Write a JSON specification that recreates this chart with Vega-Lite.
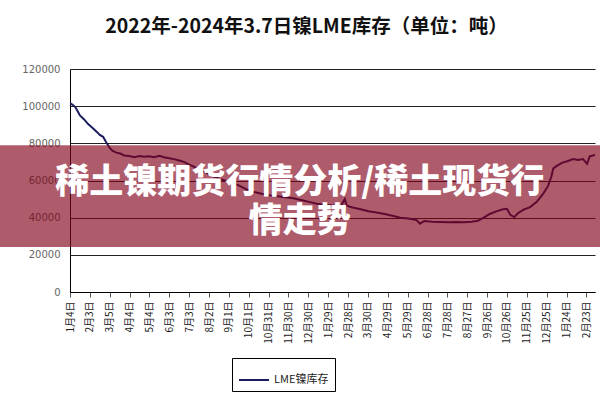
{
  "$schema": "https://vega.github.io/schema/vega-lite/v6.json",
  "autosize": "none",
  "width": 525,
  "height": 223,
  "padding": {"left": 70, "top": 69, "right": 5, "bottom": 108},
  "background": "white",
  "title": {
    "text": "2022年-2024年3.7日镍LME库存（单位：吨）",
    "font": "Noto Sans CJK SC",
    "fontSize": 19.5,
    "fontWeight": "bold",
    "color": "#111",
    "anchor": "middle",
    "frame": "group",
    "dx": -26,
    "offset": 27
  },
  "config": {
    "view": {"stroke": null},
    "axis": {"domainColor": "#000", "gridColor": "#222", "gridWidth": 1, "title": null, "labelOverlap": false},
    "axisX": {
      "grid": false,
      "labelAngle": -90,
      "labelAlign": "right",
      "labelBaseline": "middle",
      "labelFont": "Noto Sans CJK SC",
      "labelFontSize": 10,
      "labelColor": "#222",
      "labelPadding": 4,
      "labelBound": false,
      "labelFlush": false,
      "tickColor": "#555",
      "tickSize": 5
    },
    "axisY": {
      "grid": true,
      "ticks": false,
      "labelPadding": 10,
      "labelFont": "DejaVu Sans",
      "labelFontSize": 10,
      "labelColor": "#666"
    }
  },
  "datasets": {
    "stock": [
      {"date": "2022-01-04", "v": 101500},
      {"date": "2022-01-07", "v": 101000},
      {"date": "2022-01-12", "v": 99500},
      {"date": "2022-01-16", "v": 97000},
      {"date": "2022-01-19", "v": 95000},
      {"date": "2022-01-25", "v": 93000},
      {"date": "2022-01-31", "v": 90500},
      {"date": "2022-02-08", "v": 88000},
      {"date": "2022-02-14", "v": 86000},
      {"date": "2022-02-18", "v": 84500},
      {"date": "2022-02-23", "v": 83500},
      {"date": "2022-02-27", "v": 81000},
      {"date": "2022-03-05", "v": 77500},
      {"date": "2022-03-09", "v": 76000},
      {"date": "2022-03-15", "v": 75000},
      {"date": "2022-03-21", "v": 74500},
      {"date": "2022-03-27", "v": 73500},
      {"date": "2022-04-04", "v": 73200},
      {"date": "2022-04-11", "v": 72500},
      {"date": "2022-04-19", "v": 73200},
      {"date": "2022-04-26", "v": 72800},
      {"date": "2022-05-04", "v": 73000},
      {"date": "2022-05-11", "v": 72500},
      {"date": "2022-05-19", "v": 73300},
      {"date": "2022-05-26", "v": 72500},
      {"date": "2022-06-03", "v": 72000},
      {"date": "2022-06-10", "v": 71500},
      {"date": "2022-06-18", "v": 70800},
      {"date": "2022-06-25", "v": 70000},
      {"date": "2022-07-03", "v": 68500},
      {"date": "2022-07-10", "v": 67500},
      {"date": "2022-07-18", "v": 66000},
      {"date": "2022-07-30", "v": 64000},
      {"date": "2022-08-10", "v": 62000},
      {"date": "2022-08-21", "v": 60500},
      {"date": "2022-09-03", "v": 59000},
      {"date": "2022-09-15", "v": 57500},
      {"date": "2022-09-26", "v": 55500},
      {"date": "2022-10-07", "v": 54000},
      {"date": "2022-10-19", "v": 53000},
      {"date": "2022-10-31", "v": 52000},
      {"date": "2022-11-13", "v": 51500},
      {"date": "2022-11-25", "v": 51000},
      {"date": "2022-12-07", "v": 50500},
      {"date": "2022-12-19", "v": 49500},
      {"date": "2022-12-31", "v": 48500},
      {"date": "2023-01-12", "v": 47500},
      {"date": "2023-01-24", "v": 47000},
      {"date": "2023-02-05", "v": 46500},
      {"date": "2023-02-17", "v": 46000},
      {"date": "2023-02-23", "v": 50000},
      {"date": "2023-02-26", "v": 46500},
      {"date": "2023-03-07", "v": 45500},
      {"date": "2023-03-19", "v": 44500},
      {"date": "2023-03-31", "v": 43500},
      {"date": "2023-04-12", "v": 42800},
      {"date": "2023-04-24", "v": 42000},
      {"date": "2023-05-06", "v": 41000},
      {"date": "2023-05-18", "v": 40000},
      {"date": "2023-05-30", "v": 39500},
      {"date": "2023-06-11", "v": 38800},
      {"date": "2023-06-17", "v": 36800},
      {"date": "2023-06-23", "v": 38200},
      {"date": "2023-07-05", "v": 37800},
      {"date": "2023-07-17", "v": 37700},
      {"date": "2023-07-29", "v": 37600},
      {"date": "2023-08-10", "v": 37700},
      {"date": "2023-08-22", "v": 37600},
      {"date": "2023-09-03", "v": 37800},
      {"date": "2023-09-12", "v": 38300},
      {"date": "2023-09-21", "v": 40000},
      {"date": "2023-09-30", "v": 42000},
      {"date": "2023-10-11", "v": 43500},
      {"date": "2023-10-20", "v": 44500},
      {"date": "2023-10-26", "v": 44800},
      {"date": "2023-10-31", "v": 41500},
      {"date": "2023-11-06", "v": 40300},
      {"date": "2023-11-12", "v": 42500},
      {"date": "2023-11-21", "v": 44500},
      {"date": "2023-11-30", "v": 45700},
      {"date": "2023-12-10", "v": 48500},
      {"date": "2023-12-19", "v": 52500},
      {"date": "2023-12-27", "v": 57000},
      {"date": "2024-01-01", "v": 62000},
      {"date": "2024-01-04", "v": 66500},
      {"date": "2024-01-10", "v": 68000},
      {"date": "2024-01-17", "v": 69500},
      {"date": "2024-01-26", "v": 70500},
      {"date": "2024-02-03", "v": 71500},
      {"date": "2024-02-10", "v": 71000},
      {"date": "2024-02-18", "v": 71500},
      {"date": "2024-02-24", "v": 69000},
      {"date": "2024-02-28", "v": 73000},
      {"date": "2024-03-07", "v": 73700}
    ],
    "banner": [{"label": ["稀土镍期货行情分析/稀土现货行", "情走势"]}]
  },
  "layer": [
    {
      "data": {"name": "stock"},
      "mark": {"type": "line", "strokeWidth": 2, "interpolate": "linear"},
      "encoding": {
        "x": {
          "field": "date",
          "type": "temporal",
          "scale": {
            "type": "utc",
            "domain": [1641254400000, 1709769600000],
            "nice": false
          },
          "axis": {
            "values": [1641254400000, 1643846400000, 1646438400000, 1649030400000, 1651622400000, 1654214400000, 1656806400000, 1659398400000, 1661990400000, 1664582400000, 1667174400000, 1669766400000, 1672358400000, 1674950400000, 1677542400000, 1680134400000, 1682726400000, 1685318400000, 1687910400000, 1690502400000, 1693094400000, 1695686400000, 1698278400000, 1700870400000, 1703462400000, 1706054400000, 1708646400000],
            "labelExpr": "(utcmonth(datum.value) + 1) + '月' + utcdate(datum.value) + '日'"
          }
        },
        "y": {
          "field": "v",
          "type": "quantitative",
          "scale": {"domain": [0, 120000], "nice": false},
          "axis": {"values": [0, 20000, 40000, 60000, 80000, 100000, 120000], "format": "d"}
        },
        "color": {
          "datum": "LME镍库存",
          "type": "nominal",
          "scale": {"range": ["#1c1c5e"]},
          "legend": {
            "title": null,
            "orient": "none",
            "legendX": 162,
            "legendY": 289,
            "strokeColor": "#000",
            "padding": 6,
            "symbolType": "stroke",
            "symbolSize": 900,
            "symbolStrokeWidth": 2,
            "labelFont": "Noto Sans CJK SC",
            "labelFontSize": 11,
            "labelColor": "#222",
            "fillColor": "white"
          }
        }
      }
    },
    {
      "data": {"name": "banner"},
      "mark": {"type": "rect", "fill": "#800018", "opacity": 0.64},
      "encoding": {
        "x": {
          "datum": 1632096000000,
          "type": "temporal",
          "axis": {
            "values": [1641254400000, 1643846400000, 1646438400000, 1649030400000, 1651622400000, 1654214400000, 1656806400000, 1659398400000, 1661990400000, 1664582400000, 1667174400000, 1669766400000, 1672358400000, 1674950400000, 1677542400000, 1680134400000, 1682726400000, 1685318400000, 1687910400000, 1690502400000, 1693094400000, 1695686400000, 1698278400000, 1700870400000, 1703462400000, 1706054400000, 1708646400000],
            "labelExpr": "(utcmonth(datum.value) + 1) + '月' + utcdate(datum.value) + '日'"
          }
        },
        "x2": {"datum": 1710460800000},
        "y": {
          "datum": 79000,
          "type": "quantitative",
          "axis": {"values": [0, 20000, 40000, 60000, 80000, 100000, 120000], "format": "d"}
        },
        "y2": {"datum": 24200}
      }
    },
    {
      "data": {"name": "banner"},
      "mark": {
        "type": "text",
        "font": "Noto Sans CJK SC",
        "fontSize": 34,
        "fontWeight": 900,
        "color": "white",
        "align": "center",
        "baseline": "middle",
        "lineHeight": 39
      },
      "encoding": {
        "text": {"field": "label"},
        "x": {
          "datum": 1671235200000,
          "type": "temporal",
          "axis": {
            "values": [1641254400000, 1643846400000, 1646438400000, 1649030400000, 1651622400000, 1654214400000, 1656806400000, 1659398400000, 1661990400000, 1664582400000, 1667174400000, 1669766400000, 1672358400000, 1674950400000, 1677542400000, 1680134400000, 1682726400000, 1685318400000, 1687910400000, 1690502400000, 1693094400000, 1695686400000, 1698278400000, 1700870400000, 1703462400000, 1706054400000, 1708646400000],
            "labelExpr": "(utcmonth(datum.value) + 1) + '月' + utcdate(datum.value) + '日'"
          }
        },
        "y": {
          "datum": 58600,
          "type": "quantitative",
          "axis": {"values": [0, 20000, 40000, 60000, 80000, 100000, 120000], "format": "d"}
        }
      }
    }
  ]
}
